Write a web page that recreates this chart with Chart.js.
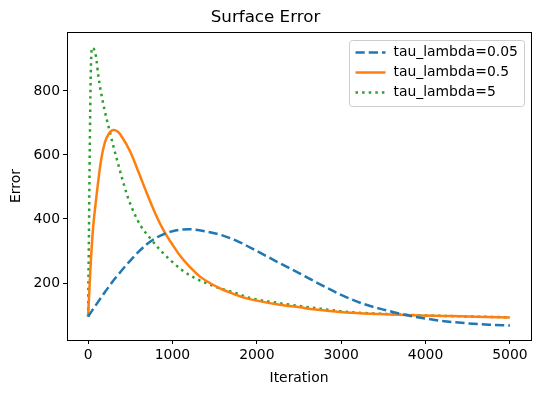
<!DOCTYPE html>
<html>
<head>
<meta charset="utf-8">
<script src="https://cdn.jsdelivr.net/npm/chart.js@4"></script>
<style>
  html, body { margin: 0; padding: 0; background: #fff; }
  #wrap { width: 540px; height: 393px; }
</style>
</head>
<body>
<div id="wrap"><canvas id="error-chart" width="540" height="393"></canvas></div>
<script>
// values
const iterSlow = [0, 25, 50, 100, 150, 200, 250, 300, 350, 400, 500, 600, 700, 800, 900, 1000, 1200, 1400, 1600, 1800, 2000, 2250, 2500, 2750, 3000, 3250, 3500, 3750, 4000, 4250, 4500, 4750, 5000];
const errSlow = [95, 105, 115, 134, 153, 172, 190, 208, 224, 240, 270, 298, 322, 340, 353, 362, 368, 361, 348, 327, 300, 265, 231, 196, 163, 136, 117, 101, 89, 80, 74, 70, 67];

const iterMid = [0, 25, 54, 94, 154, 200, 250, 300, 350, 400, 500, 600, 700, 800, 900, 1000, 1100, 1200, 1327, 1564, 1761, 1880, 2273, 2510, 2667, 3058, 3455, 3849, 4243, 4600, 5000];
const errMid = [95, 230, 355, 459, 584, 640, 668, 678, 673, 657, 610, 545, 478, 415, 362, 320, 282, 252, 220, 183, 162, 152, 132, 124, 118, 108, 103, 99, 97, 95, 92];

const iterFast = [0, 10, 20, 30, 45, 70, 95, 120, 150, 200, 250, 300, 350, 400, 468, 547, 626, 745, 855, 973, 1111, 1268, 1407, 1564, 1761, 1880, 2273, 2510, 2750, 3058, 3455, 3850, 4243, 4600, 5000];
const errFast = [95, 350, 620, 830, 935, 930, 905, 850, 800, 735, 680, 627, 578, 530, 470, 418, 378, 337, 303, 272, 241, 215, 199, 183, 168, 156, 137, 128, 120, 110, 104, 100, 97, 95, 93];

const seriesNames = ['tau_lambda=0.05', 'tau_lambda=0.5', 'tau_lambda=5'];
const seriesColors = ['#1f77b4', '#ff7f0e', '#2ca02c'];
const seriesDashes = [[9.25, 4], [], [2.5, 4.1]];

const xTicks = [0, 1000, 2000, 3000, 4000, 5000];
const yTicks = [200, 400, 600, 800];

const FONT = 'DejaVu Sans';
const TICK_SIZE = 13.9;

function toPoints(xs, ys) {
    return xs.map((x, i) => ({ x: x, y: ys[i] }));
}

function makeSet(i, xs, ys) {
    return {
        label: seriesNames[i],
        data: toPoints(xs, ys),
        borderColor: seriesColors[i],
        backgroundColor: seriesColors[i],
        borderWidth: 2.5,
        borderDash: seriesDashes[i],
        borderCapStyle: 'butt',
        pointRadius: 0,
        fill: false,
        cubicInterpolationMode: 'monotone'
    };
}

// frame round the plot, like matplotlib spines
const framePlugin = {
    id: 'frame',
    afterDatasetsDraw(chart) {
        const a = chart.chartArea;
        const ctx = chart.ctx;
        ctx.save();
        ctx.strokeStyle = '#000';
        ctx.lineWidth = 1;
        ctx.setLineDash([]);
        ctx.strokeRect(Math.round(a.left) + 0.5, Math.round(a.top) + 0.5,
            Math.round(a.right - a.left), Math.round(a.bottom - a.top));
        ctx.restore();
    }
};

// legend box inside the plot, top right
const boxLegend = {
    id: 'boxLegend',
    afterDraw(chart) {
        const ctx = chart.ctx;
        const a = chart.chartArea;
        const w = 175, h = 66;
        const x0 = Math.round(a.right) - 7 - w + 0.5;
        const y0 = Math.round(a.top) + 8 + 0.5;
        ctx.save();
        ctx.beginPath();
        ctx.roundRect(x0, y0, w, h, 3);
        ctx.fillStyle = 'rgba(255,255,255,0.8)';
        ctx.fill();
        ctx.strokeStyle = '#cccccc';
        ctx.lineWidth = 1;
        ctx.stroke();
        ctx.font = TICK_SIZE + 'px "' + FONT + '"';
        ctx.textBaseline = 'middle';
        ctx.fillStyle = '#000';
        chart.data.datasets.forEach((ds, i) => {
            const yy = y0 + 12 + i * 20;
            ctx.beginPath();
            ctx.setLineDash(ds.borderDash);
            ctx.lineCap = 'butt';
            ctx.strokeStyle = ds.borderColor;
            ctx.lineWidth = 2.5;
            ctx.moveTo(x0 + 6, yy);
            ctx.lineTo(x0 + 36, yy);
            ctx.stroke();
            ctx.setLineDash([]);
            ctx.fillText(ds.label, x0 + 44, yy);
        });
        ctx.restore();
    }
};

const ctx = document.getElementById('error-chart').getContext('2d');
const errorChart = new Chart(ctx, {
    type: 'line',
    data: {
        datasets: [
            makeSet(0, iterSlow, errSlow),
            makeSet(1, iterMid, errMid),
            makeSet(2, iterFast, errFast)
        ]
    },
    options: {
        responsive: false,
        animation: false,
        devicePixelRatio: 1,
        layout: { padding: { left: 0, right: 9, top: 0, bottom: 0 } },
        plugins: {
            legend: { display: false },
            tooltip: { enabled: false },
            title: {
                display: true,
                text: 'Surface Error',
                color: '#000',
                font: { family: FONT, size: 16.7, weight: 'normal', lineHeight: 1.2 },
                padding: { top: 8, bottom: 4 }
            }
        },
        scales: {
            x: {
                type: 'linear',
                min: -250,
                max: 5250,
                afterBuildTicks: scale => { scale.ticks = xTicks.map(v => ({ value: v })); },
                afterFit: scale => { scale.height = 53; },
                grid: { display: true, drawOnChartArea: false, drawTicks: true, tickLength: 4, color: '#000' },
                border: { display: false },
                ticks: {
                    color: '#000',
                    padding: 3,
                    maxRotation: 0,
                    autoSkip: false,
                    callback: v => String(v),
                    font: { family: FONT, size: TICK_SIZE }
                },
                title: {
                    display: true,
                    text: 'Iteration',
                    color: '#000',
                    font: { family: FONT, size: TICK_SIZE },
                    padding: { top: 2, bottom: 6 }
                }
            },
            y: {
                type: 'linear',
                min: 22,
                max: 984,
                afterBuildTicks: scale => { scale.ticks = yTicks.map(v => ({ value: v })); },
                afterFit: scale => { scale.width = 67; },
                grid: { display: true, drawOnChartArea: false, drawTicks: true, tickLength: 4, color: '#000' },
                border: { display: false },
                ticks: {
                    color: '#000',
                    padding: 3,
                    callback: v => String(v),
                    font: { family: FONT, size: TICK_SIZE }
                },
                title: {
                    display: true,
                    text: 'Error',
                    color: '#000',
                    font: { family: FONT, size: TICK_SIZE },
                    padding: { top: 8, bottom: 2 }
                }
            }
        }
    },
    plugins: [framePlugin, boxLegend]
});
</script>
</body>
</html>
